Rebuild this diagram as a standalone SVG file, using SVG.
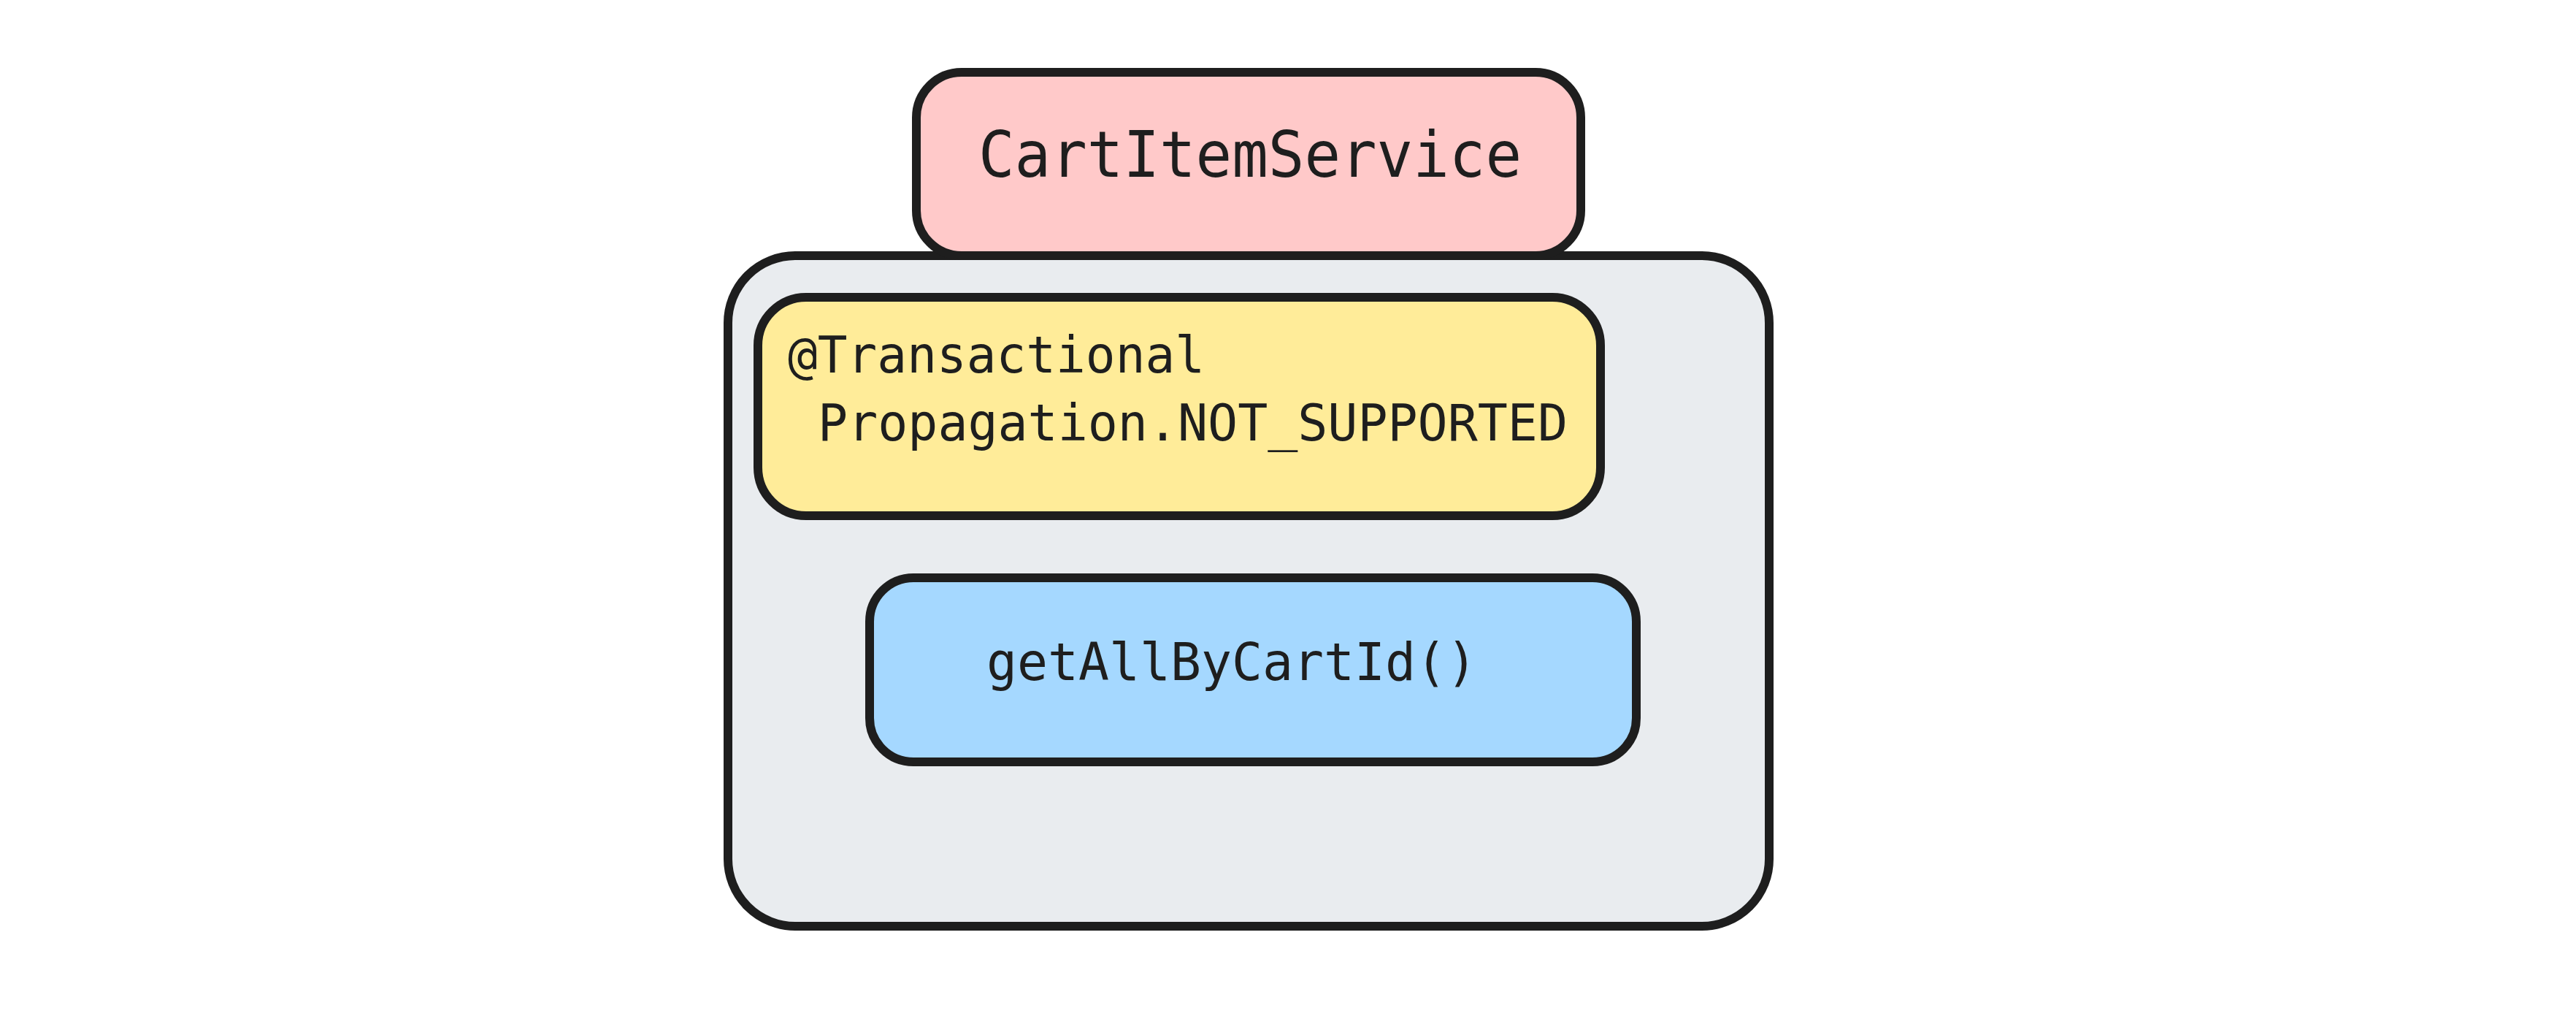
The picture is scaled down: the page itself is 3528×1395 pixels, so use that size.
<svg xmlns="http://www.w3.org/2000/svg" width="3528" height="1395" viewBox="0 0 3528 1395">
  <style>
    .box { stroke: #1e1e1e; stroke-width: 12; }
    .lbl { font-family: "DejaVu Sans Mono", "Liberation Mono", monospace; fill: #1e1e1e; }
  </style>
  <rect x="0" y="0" width="3528" height="1395" fill="#ffffff"/>
  <g id="container">
    <rect class="box" x="997" y="350" width="1426" height="918" rx="92" ry="92" fill="#e9ecef"/>
  </g>
  <g id="cart-item-service">
    <rect class="box" x="1255" y="99" width="910" height="251" rx="62" ry="62" fill="#ffc9c9"/>
    <text class="lbl" x="1340" y="242" font-size="87" textLength="744" lengthAdjust="spacingAndGlyphs">CartItemService</text>
  </g>
  <g id="transactional">
    <rect class="box" x="1038" y="407" width="1154" height="299" rx="66" ry="66" fill="#ffec99"/>
    <text class="lbl" font-size="69" xml:space="preserve"><tspan x="1079" y="510" textLength="571" lengthAdjust="spacingAndGlyphs">@Transactional</tspan><tspan x="1079" y="603" textLength="1068" lengthAdjust="spacingAndGlyphs"> Propagation.NOT_SUPPORTED</tspan></text>
  </g>
  <g id="get-all-by-cart-id">
    <rect class="box" x="1191" y="791" width="1050" height="252" rx="60" ry="60" fill="#a5d8ff"/>
    <text class="lbl" x="1351" y="931" font-size="71" textLength="672" lengthAdjust="spacingAndGlyphs">getAllByCartId()</text>
  </g>
  <g id="connectors"></g>
</svg>
